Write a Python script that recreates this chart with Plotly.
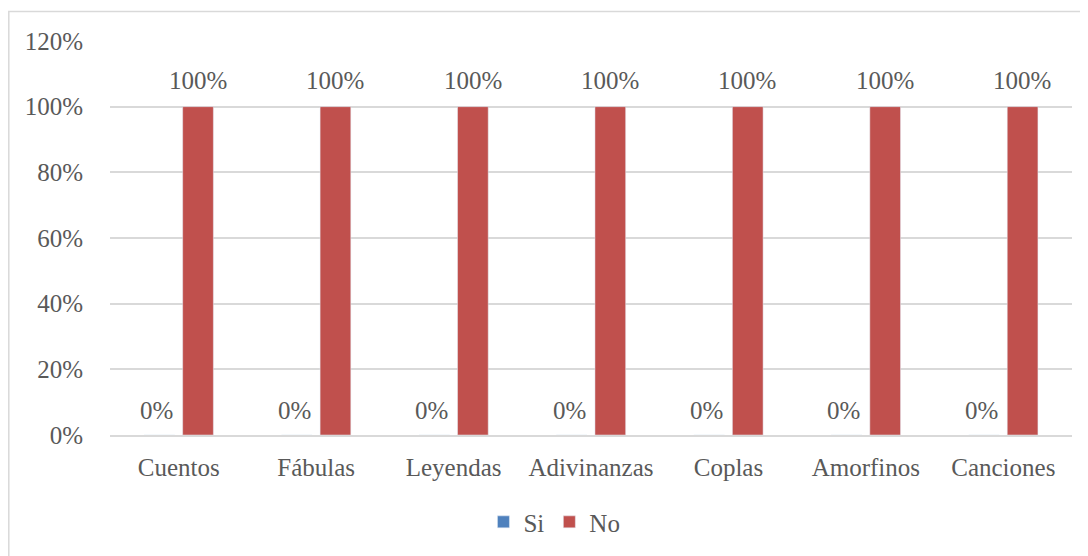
import plotly.graph_objects as go

categories = ["Cuentos", "Fábulas", "Leyendas", "Adivinanzas", "Coplas", "Amorfinos", "Canciones"]
si_values = [0, 0, 0, 0, 0, 0, 0]
no_values = [1, 1, 1, 1, 1, 1, 1]
y_ticks = [0, 0.2, 0.4, 0.6, 0.8, 1.0, 1.2]

FONT = "Liberation Serif"
TXT = "#595959"

fig = go.Figure()
fig.add_trace(go.Bar(name="Si", x=categories, y=si_values, marker_color="#4F81BD"))
fig.add_trace(go.Bar(name="No", x=categories, y=no_values, marker_color="#C0504D"))

annotations = []
for c, v in zip(categories, si_values):
    annotations.append(dict(x=c, y=v, xref="x", yref="y", text=f"{v:.0%}", showarrow=False,
                            xshift=-22, yshift=25, font=dict(family=FONT, size=25, color=TXT)))
for c, v in zip(categories, no_values):
    annotations.append(dict(x=c, y=v, xref="x", yref="y", text=f"{v:.0%}", showarrow=False,
                            xshift=19, yshift=26, font=dict(family=FONT, size=25, color=TXT)))

# page has an 8px body margin; figure is 1080x548 placed at (8, 8)
PW, PH = 962, 395
fig.update_layout(
    width=1080, height=548,
    margin=dict(l=102, r=16, t=33, b=120),
    paper_bgcolor="white", plot_bgcolor="white",
    barmode="group", bargap=0.438, bargroupgap=0.205,
    font=dict(family=FONT, size=25, color=TXT),
    showlegend=True,
    legend=dict(orientation="h", x=0.462, xanchor="center", y=-0.218, yanchor="middle",
                font=dict(family=FONT, size=25, color=TXT), itemwidth=30, traceorder="normal"),
    annotations=annotations,
    shapes=[dict(type="rect", xref="paper", yref="paper",
                 x0=(0.8 - 102) / PW, x1=(1100 - 102) / PW,
                 y0=(428 - 570) / PH, y1=(428 - 3.5) / PH,
                 line=dict(color="#D9D9D9", width=1.5), fillcolor="rgba(0,0,0,0)", layer="below")],
)
fig.update_xaxes(showgrid=False, showline=True, linecolor="#D9D9D9", linewidth=2,
                 ticks="", ticklabelstandoff=9, tickfont=dict(family=FONT, size=25, color=TXT))
fig.update_yaxes(range=[0, 1.2], tickvals=y_ticks, tickformat=".0%", showgrid=True,
                 gridcolor="#D9D9D9", gridwidth=2, zeroline=False, showline=False,
                 ticks="", ticklabelstandoff=26, tickfont=dict(family=FONT, size=25, color=TXT))

fig.write_html("out.html")
